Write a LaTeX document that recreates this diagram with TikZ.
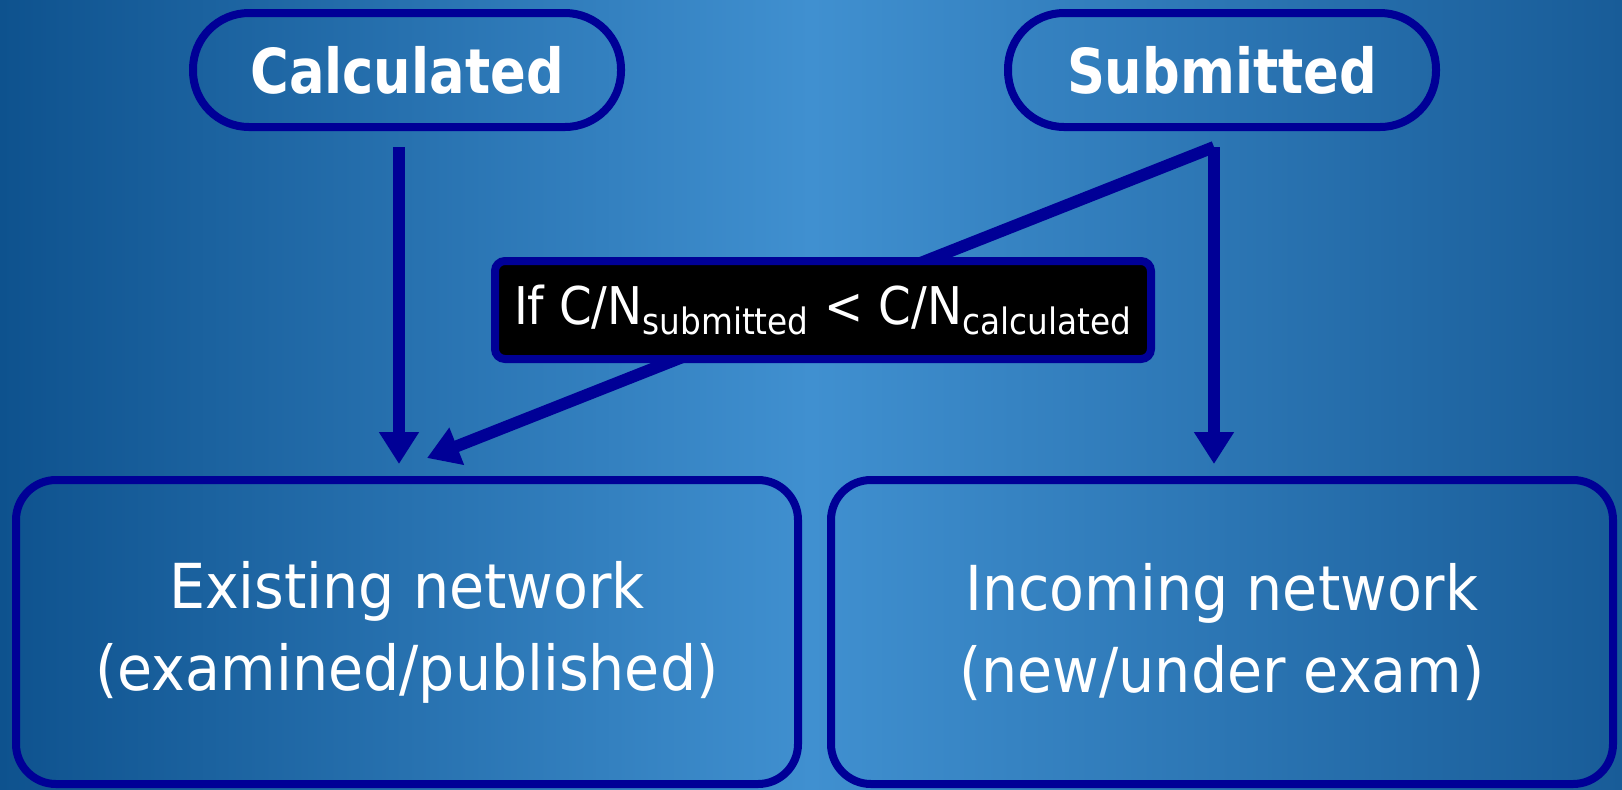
\documentclass[tikz,border=0pt]{standalone}
\usepackage{fontspec}
\setmainfont{DejaVu Sans}[FakeStretch=0.92]
\newfontfamily\pillfont{DejaVu Sans}[FakeStretch=0.85]
\newfontfamily\condfont{DejaVu Sans Condensed}
\usetikzlibrary{arrows.meta}
\definecolor{edgeblue}{RGB}{0,0,150}
\definecolor{bgdark}{RGB}{14,82,142}
\definecolor{bglight}{RGB}{64,144,208}
\definecolor{bgright}{RGB}{24,92,152}

\begin{document}
\begin{tikzpicture}[x=0.5pt,y=-0.5pt,
    pill/.style={draw=edgeblue, line width=4pt, rounded corners=28pt,
        minimum width=214pt, minimum height=57pt, text=white,
        font=\pillfont\bfseries\fontsize{31}{38}\selectfont},
    netbox/.style={draw=edgeblue, line width=4pt, rounded corners=20pt,
        minimum width=391pt, minimum height=152pt, text=white, align=center,
        font=\fontsize{31}{41}\selectfont},
    cond/.style={draw=edgeblue, fill=black, line width=4pt, rounded corners=5pt,
        minimum width=328pt, minimum height=49pt, text=white,
        font=\condfont\fontsize{26}{30}\selectfont},
    link/.style={draw=edgeblue, line width=6pt,
        -{Triangle[width=19pt,length=16pt]}}]

    \shade[left color=bgdark, right color=bgright, middle color=bglight]
        (0,0) rectangle (1622,789);

    \node[pill] (calc) at (407,70) {Calculated};
    \node[pill] (subm) at (1222,70) {Submitted};
    \node[netbox] (exist) at (407,632) {Existing network\\(examined/published)};
    \node[netbox] (incom) at (1222,632) {Incoming network\\(new/under exam)};

    \coordinate (fork) at ([xshift=-4pt,yshift=-8pt]subm.south);

    \draw[link] ([xshift=-4pt,yshift=-8pt]calc.south) -- ([xshift=-4pt,yshift=6pt]exist.north);
    \draw[link] (fork) -- ([xshift=-4pt,yshift=6pt]incom.north);
    \draw[link] (fork) -- ([xshift=10pt,yshift=9pt]exist.north);

    \node[cond] (rule) at (823,310)
        {If C/N\textsubscript{submitted} < C/N\textsubscript{calculated}};

\end{tikzpicture}
\end{document}
